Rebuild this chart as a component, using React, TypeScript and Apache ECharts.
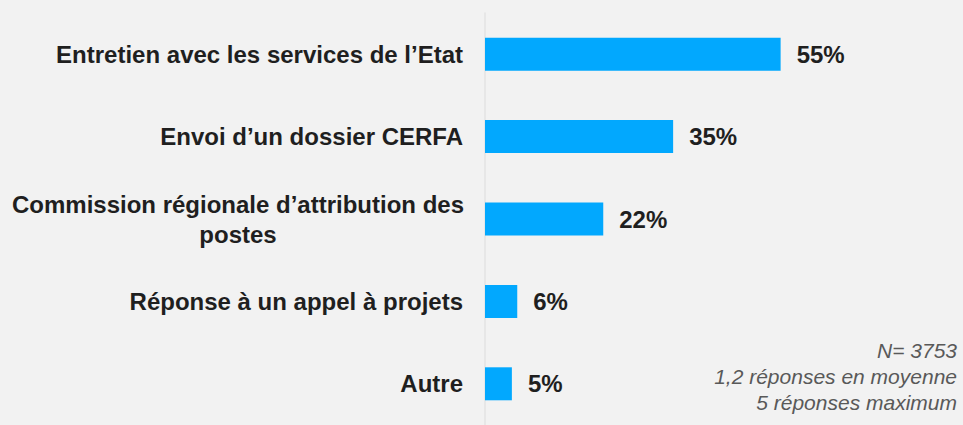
import React, { useEffect, useRef } from "react";
import * as echarts from "echarts";

const categories = [
  "Entretien avec les services de l’Etat",
  "Envoi d’un dossier CERFA",
  "Commission régionale d’attribution des\npostes",
  "Réponse à un appel à projets",
  "Autre",
];
const values = [55, 35, 22, 6, 5];
const noteLines = ["N= 3753", "1,2 réponses en moyenne", "5 réponses maximum"];

const FONT = "'Liberation Sans', Arial, sans-serif";

export default function App() {
  const ref = useRef<HTMLDivElement>(null);
  useEffect(() => {
    if (!ref.current) return;
    const chart = echarts.init(ref.current, null, { renderer: "svg" });
    chart.setOption({
      animation: false,
      backgroundColor: "#f2f2f2",
      grid: { left: 485, right: 48, top: 13, height: 420, containLabel: false },
      xAxis: {
        type: "value",
        min: 0,
        max: 80,
        show: false,
      },
      yAxis: {
        type: "category",
        inverse: true,
        data: categories,
        axisLine: { show: true, lineStyle: { color: "#e3e3e3", width: 1.5 } },
        axisTick: { show: false },
        axisLabel: {
          margin: 22,
          align: "right",
          color: "#1f1f1f",
          fontFamily: FONT,
          fontWeight: "bold",
          fontSize: 24,
          lineHeight: 30,
          formatter: (v: string) => {
            if (v.indexOf("\n") < 0) return v;
            return v
              .split("\n")
              .map((l) => "{w|" + l + "}")
              .join("\n");
          },
          rich: {
            w: {
              width: 450,
              align: "center",
              color: "#1f1f1f",
              fontFamily: FONT,
              fontWeight: "bold",
              fontSize: 24,
              lineHeight: 30,
            },
          },
        },
      },
      series: [
        {
          type: "bar",
          data: values,
          barWidth: 33,
          itemStyle: { color: "#02a8fe" },
          label: {
            show: true,
            position: "right",
            distance: 16,
            formatter: "{c}%",
            color: "#1f1f1f",
            fontFamily: FONT,
            fontWeight: "bold",
            fontSize: 24,
          },
        },
      ],
      graphic: noteLines.map((t, i) => ({
        type: "text",
        x: 957,
        y: 350 + i * 26.3,
        style: {
          text: t,
          align: "right",
          verticalAlign: "middle",
          fill: "#595959",
          fontFamily: FONT,
          fontStyle: "italic",
          fontSize: 21,
        },
      })),
    });
    return () => chart.dispose();
  }, []);
  return (
    <div
      ref={ref}
      style={{ position: "absolute", left: 0, top: 0, width: 963, height: 425 }}
    />
  );
}
